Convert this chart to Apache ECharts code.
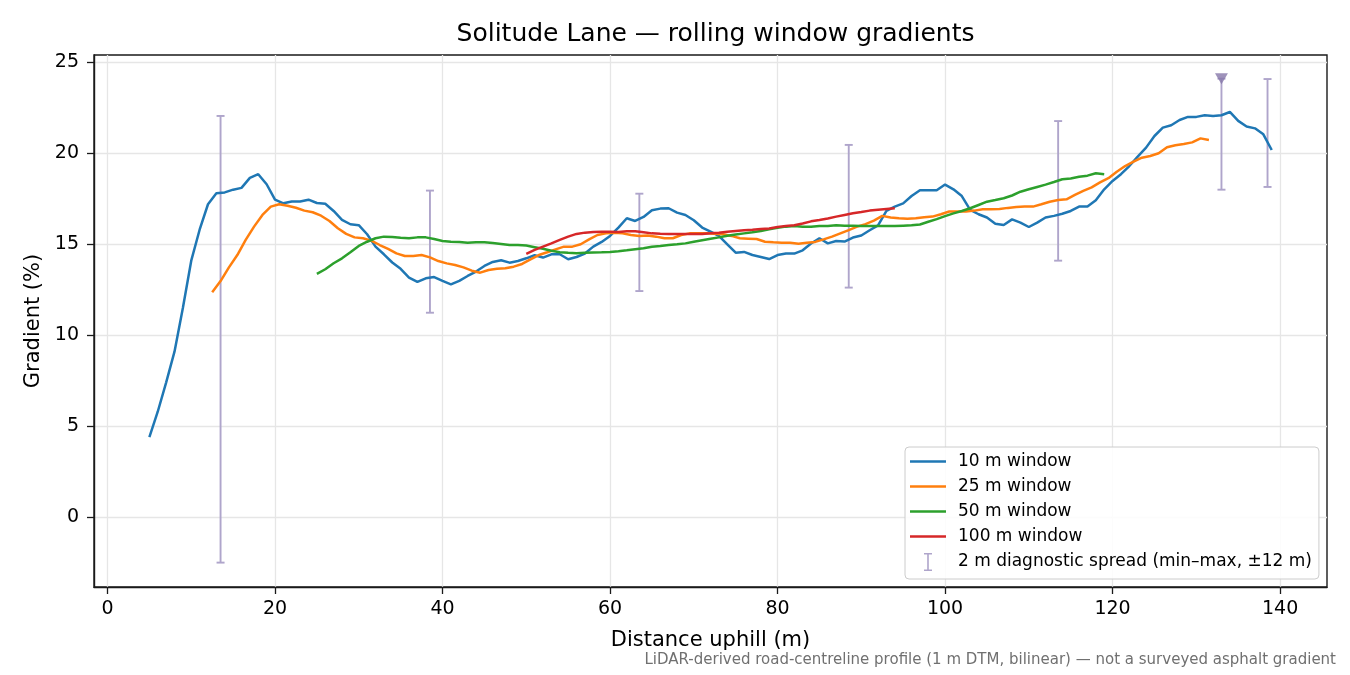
<!DOCTYPE html>
<html>
<head>
<meta charset="utf-8">
<title>Solitude Lane — rolling window gradients</title>
<script src="https://cdn.jsdelivr.net/npm/echarts@6.0.0/dist/echarts.min.js"></script>
<style>
  html, body { margin: 0; padding: 0; background: #fff; }
  #chart { width: 1350px; height: 675px; }
</style>
</head>
<body>
<div id="chart"></div>
<script>
// distance (m) of the first sample of each window, 1 m spacing after that
var start10 = 5;
var start25 = 12.5;
var start50 = 25;
var start100 = 50;

var grad10 = [
  4.4, 5.8, 7.4, 9.1, 11.5, 14.1, 15.8, 17.2, 17.8, 17.85,
  18.0, 18.1, 18.65, 18.85, 18.3, 17.45, 17.25, 17.35, 17.35, 17.45,
  17.27, 17.23, 16.83, 16.34, 16.1, 16.05, 15.55, 14.87, 14.45, 14.0,
  13.65, 13.17, 12.93, 13.13, 13.2, 12.99, 12.8, 12.99, 13.26, 13.5,
  13.81, 14.03, 14.12, 13.99, 14.08, 14.23, 14.4, 14.27, 14.45, 14.45,
  14.18, 14.3, 14.49, 14.87, 15.13, 15.46, 15.92, 16.43, 16.28, 16.5,
  16.87, 16.96, 16.98, 16.74, 16.61, 16.32, 15.92, 15.7, 15.46, 15.0,
  14.54, 14.58, 14.41, 14.3, 14.19, 14.41, 14.49, 14.49, 14.67, 15.04,
  15.33, 15.05, 15.18, 15.15, 15.37, 15.48, 15.77, 16.04, 16.83, 17.07,
  17.25, 17.65, 17.97, 17.97, 17.97, 18.28, 18.02, 17.65, 16.89, 16.65,
  16.47, 16.13, 16.06, 16.37, 16.19, 15.95, 16.19, 16.47, 16.56, 16.68,
  16.83, 17.07, 17.07, 17.42, 18.02, 18.48, 18.85, 19.3, 19.82, 20.31,
  20.95, 21.41, 21.54, 21.83, 22.0, 22.0, 22.09, 22.05, 22.09, 22.27,
  21.78, 21.47, 21.37, 21.04, 20.18
];

var grad25 = [
  12.36, 12.98, 13.73, 14.41, 15.24, 15.97, 16.61, 17.07, 17.2, 17.12,
  17.01, 16.85, 16.76, 16.57, 16.28, 15.88, 15.57, 15.38, 15.33, 15.2,
  14.96, 14.75, 14.5, 14.36, 14.36, 14.41, 14.28, 14.08, 13.95, 13.86,
  13.73, 13.55, 13.44, 13.59, 13.66, 13.68, 13.77, 13.92, 14.17, 14.41,
  14.56, 14.72, 14.87, 14.87, 15.0, 15.27, 15.51, 15.6, 15.64, 15.6,
  15.51, 15.46, 15.48, 15.42, 15.33, 15.33, 15.51, 15.6, 15.6, 15.6,
  15.58, 15.55, 15.46, 15.33, 15.31, 15.29, 15.14, 15.11, 15.09, 15.09,
  15.03, 15.09, 15.13, 15.27, 15.42, 15.6, 15.78, 15.97, 16.11, 16.3,
  16.56, 16.47, 16.43, 16.4, 16.43, 16.48, 16.52, 16.65, 16.8, 16.8,
  16.8, 16.85, 16.92, 16.92, 16.94, 17.0, 17.05, 17.08, 17.07, 17.2,
  17.34, 17.43, 17.47, 17.71, 17.93, 18.13, 18.4, 18.63, 18.99, 19.3,
  19.54, 19.76, 19.85, 20.0, 20.33, 20.44, 20.51, 20.6, 20.82, 20.73
];

var grad50 = [
  13.37, 13.63, 13.96, 14.23, 14.56, 14.91, 15.14, 15.33, 15.42, 15.4,
  15.36, 15.33, 15.38, 15.38, 15.29, 15.18, 15.14, 15.13, 15.09, 15.11,
  15.11, 15.07, 15.02, 14.96, 14.96, 14.93, 14.84, 14.75, 14.64, 14.56,
  14.53, 14.51, 14.53, 14.55, 14.56, 14.58, 14.62, 14.67, 14.73, 14.78,
  14.87, 14.91, 14.96, 15.0, 15.05, 15.14, 15.22, 15.3, 15.38, 15.47,
  15.54, 15.6, 15.66, 15.73, 15.82, 15.91, 15.97, 16.0, 15.97, 15.97,
  16.0, 16.0, 16.04, 16.02, 16.02, 16.0, 16.0, 16.0, 16.0, 16.0,
  16.02, 16.04, 16.09, 16.24, 16.38, 16.55, 16.7, 16.83, 16.98, 17.16,
  17.34, 17.43, 17.53, 17.68, 17.89, 18.02, 18.15, 18.28, 18.42, 18.57,
  18.62, 18.71, 18.77, 18.9, 18.85
];

var grad100 = [
  14.47, 14.69, 14.87, 15.05, 15.24, 15.42, 15.57, 15.64, 15.68, 15.69,
  15.69, 15.68, 15.71, 15.71, 15.66, 15.6, 15.58, 15.57, 15.57, 15.57,
  15.57, 15.57, 15.6, 15.64, 15.69, 15.73, 15.77, 15.8, 15.84, 15.87,
  15.95, 16.0, 16.05, 16.14, 16.26, 16.33, 16.42, 16.52, 16.61, 16.7,
  16.77, 16.85, 16.9, 16.94, 16.98
];

// 2 m diagnostic spread, min–max within ±12 m
var spreadDist = [13.5, 38.5, 63.5, 88.5, 113.5, 133, 138.5];
var spreadMin = [-2.49, 11.24, 12.43, 12.62, 14.1, 18.0, 18.15];
var spreadMax = [22.05, 17.95, 17.78, 20.46, 21.77, 24.1, 24.08];

// steepest 2 m reading
var peakDist = [133];
var peakGrad = [24.1];

var xTicks = [0, 20, 40, 60, 80, 100, 120, 140];
var yTicks = [0, 5, 10, 15, 20, 25];

var seriesNames = ['10 m window', '25 m window', '50 m window', '100 m window'];
var spreadName = '2 m diagnostic spread (min–max, ±12 m)';
var colors = ['#1f77b4', '#ff7f0e', '#2ca02c', '#d62728'];
var spreadColor = '#afa5cb';
var font = 'DejaVu Sans';

var lineIcon = 'path://M0,0h36v2.5h-36z';
var barIcon = 'path://M0,0h8v1.6h-8z M3.2,0h1.6v18h-1.6z M0,16.4h8v1.6h-8z';

function toPairs(startX, values) {
  var out = [];
  for (var i = 0; i < values.length; i++) {
    out.push([startX + i, values[i]]);
  }
  return out;
}

function lineSeries(name, data, color) {
  return {
    name: name,
    type: 'line',
    data: data,
    symbol: 'none',
    lineStyle: { color: color, width: 2.5 },
    itemStyle: { color: color },
    animation: false
  };
}

var spreadData = spreadDist.map(function (d, i) {
  return [d, spreadMin[i], spreadMax[i]];
});

var myChart = echarts.init(document.getElementById('chart'));

var option = {
  backgroundColor: '#fff',
  animation: false,
  textStyle: { fontFamily: font },
  grid: {
    left: 94, right: 23, top: 55, bottom: 88,
    show: true, borderColor: '#1a1a1a', borderWidth: 1.4,
    containLabel: false
  },
  title: {
    text: 'Solitude Lane — rolling window gradients',
    left: 710.5,
    textAlign: 'center',
    top: 17,
    textStyle: { fontFamily: font, fontSize: 25, fontWeight: 'normal', color: '#000' }
  },
  legend: {
    orient: 'vertical',
    left: 905,
    top: 447,
    itemWidth: 36,
    itemHeight: 18,
    itemGap: 8,
    padding: [6, 7, 8, 5],
    backgroundColor: 'rgba(255,255,255,0.85)',
    borderColor: '#cccccc',
    borderWidth: 1,
    borderRadius: 4,
    textStyle: { fontFamily: font, fontSize: 17, color: '#000', padding: [0, 0, 0, 7] },
    data: [
      { name: seriesNames[0], icon: lineIcon },
      { name: seriesNames[1], icon: lineIcon },
      { name: seriesNames[2], icon: lineIcon },
      { name: seriesNames[3], icon: lineIcon },
      { name: spreadName, icon: barIcon }
    ]
  },
  xAxis: {
    type: 'value',
    min: -1.61,
    max: 145.6,
    name: 'Distance uphill (m)',
    nameLocation: 'middle',
    nameGap: 43,
    nameTextStyle: { fontFamily: font, fontSize: 21, color: '#000' },
    axisLine: { show: true, onZero: false, lineStyle: { color: '#1a1a1a', width: 1.4 } },
    axisTick: { show: true, length: 7, customValues: xTicks, lineStyle: { color: '#1a1a1a', width: 1.3 } },
    axisLabel: { customValues: xTicks, margin: 13, fontFamily: font, fontSize: 19, color: '#000' },
    splitLine: { show: true, lineStyle: { color: '#e6e6e6', width: 1.3 } }
  },
  yAxis: {
    type: 'value',
    min: -3.83,
    max: 25.4,
    name: 'Gradient (%)',
    nameLocation: 'middle',
    nameGap: 49,
    nameTextStyle: { fontFamily: font, fontSize: 21, color: '#000' },
    axisLine: { show: true, onZero: false, lineStyle: { color: '#1a1a1a', width: 1.4 } },
    axisTick: { show: true, length: 7, customValues: yTicks, lineStyle: { color: '#1a1a1a', width: 1.3 } },
    axisLabel: { customValues: yTicks, margin: 15, fontFamily: font, fontSize: 19, color: '#000' },
    splitLine: { show: true, lineStyle: { color: '#e6e6e6', width: 1.3 } }
  },
  graphic: [
    {
      type: 'text',
      right: 14,
      top: 653,
      style: {
        text: 'LiDAR-derived road-centreline profile (1 m DTM, bilinear) — not a surveyed asphalt gradient',
        font: '15px "DejaVu Sans"',
        fill: '#707070'
      }
    }
  ],
  series: [
    {
      name: spreadName,
      type: 'custom',
      data: spreadData,
      encode: { x: 0, y: [1, 2] },
      itemStyle: { color: spreadColor },
      renderItem: function (params, api) {
        var x = api.value(0);
        var lo = api.coord([x, api.value(1)]);
        var hi = api.coord([x, api.value(2)]);
        var cap = 4;
        var st = { stroke: spreadColor, lineWidth: 1.9 };
        return {
          type: 'group',
          children: [
            { type: 'line', shape: { x1: lo[0], y1: lo[1], x2: hi[0], y2: hi[1] }, style: st },
            { type: 'line', shape: { x1: lo[0] - cap, y1: lo[1], x2: lo[0] + cap, y2: lo[1] }, style: st },
            { type: 'line', shape: { x1: hi[0] - cap, y1: hi[1], x2: hi[0] + cap, y2: hi[1] }, style: st }
          ]
        };
      }
    },
    lineSeries(seriesNames[0], toPairs(start10, grad10), colors[0]),
    lineSeries(seriesNames[1], toPairs(start25, grad25), colors[1]),
    lineSeries(seriesNames[2], toPairs(start50, grad50), colors[2]),
    lineSeries(seriesNames[3], toPairs(start100, grad100), colors[3]),
    {
      name: 'peak',
      type: 'scatter',
      data: peakDist.map(function (d, i) { return [d, peakGrad[i]]; }),
      symbol: 'triangle',
      symbolRotate: 180,
      symbolSize: [13, 11],
      itemStyle: { color: '#8677a9' },
      z: 5
    }
  ]
};

option && myChart.setOption(option);
</script>
</body>
</html>
